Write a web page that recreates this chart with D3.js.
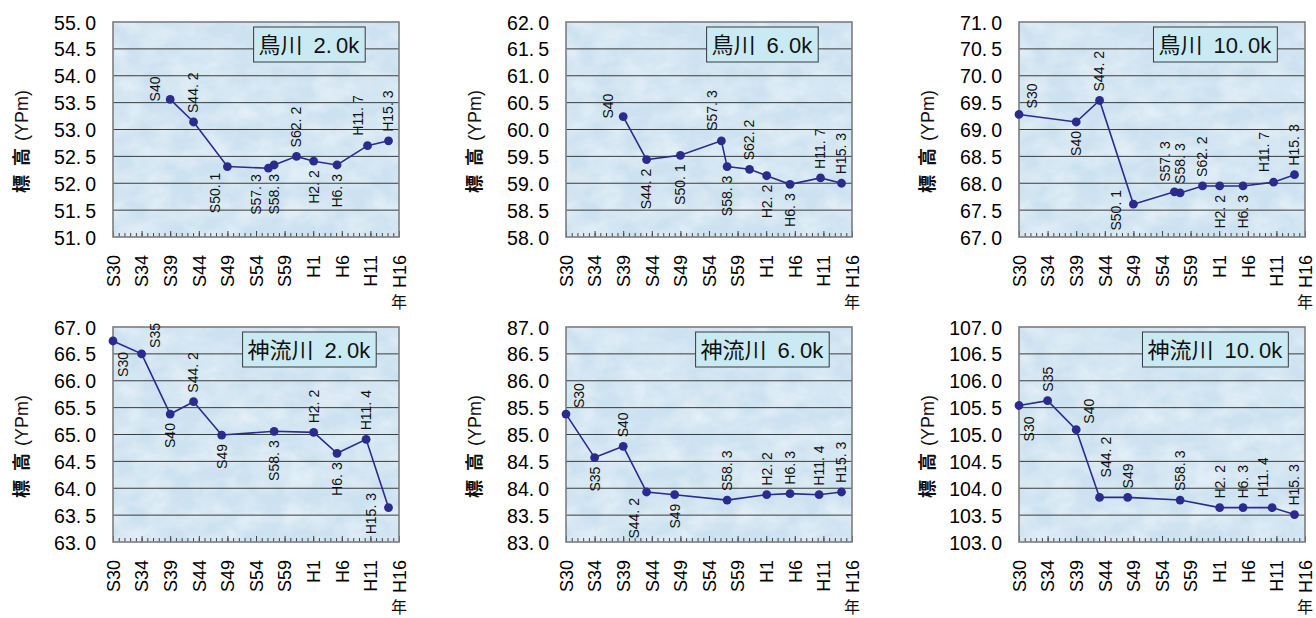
<!DOCTYPE html>
<html lang="ja">
<head>
<meta charset="utf-8">
<script src="https://cdn.jsdelivr.net/npm/d3@7"></script>
<style>
  html, body { margin: 0; padding: 0; background: #fff; }
  svg { display: block; }
  .lat { font-family: "Liberation Sans", Arial, sans-serif; }
  .cjk { font-family: "Noto Sans CJK JP", sans-serif; }
</style>
</head>
<body>
<svg id="chart" width="1316" height="618"></svg>
<script>
// Axis tick labels (Japanese era years) at five-year steps
const xTickLabels = ["S30", "S34", "S39", "S44", "S49", "S54", "S59", "H1", "H6", "H11", "H16"];
const xDomain = [1955, 2005];

// Panel titles and lower bound of each elevation axis (range is 4.0 m)
const panelTitles = ["鳥川 2.0k", "鳥川 6.0k", "鳥川 10.0k", "神流川 2.0k", "神流川 6.0k", "神流川 10.0k"];
const yMins = [51, 58, 67, 63, 83, 103];

// Survey dates (era.year.month) and bed elevations (YPm)
const surveysKarasu2 = ["S40", "S44.2", "S50.1", "S57.3", "S58.3", "S62.2", "H2.2", "H6.3", "H11.7", "H15.3"];
const elevKarasu2 = [53.56, 53.14, 52.31, 52.28, 52.34, 52.50, 52.41, 52.34, 52.70, 52.79];

const surveysKarasu6 = ["S40", "S44.2", "S50.1", "S57.3", "S58.3", "S62.2", "H2.2", "H6.3", "H11.7", "H15.3"];
const elevKarasu6 = [60.24, 59.44, 59.52, 59.79, 59.31, 59.26, 59.14, 58.98, 59.10, 59.00];

const surveysKarasu10 = ["S30", "S40", "S44.2", "S50.1", "S57.3", "S58.3", "S62.2", "H2.2", "H6.3", "H11.7", "H15.3"];
const elevKarasu10 = [69.28, 69.14, 69.54, 67.61, 67.84, 67.82, 67.95, 67.95, 67.95, 68.02, 68.16];

const surveysKanna2 = ["S30", "S35", "S40", "S44.2", "S49", "S58.3", "H2.2", "H6.3", "H11.4", "H15.3"];
const elevKanna2 = [66.74, 66.50, 65.38, 65.61, 64.99, 65.06, 65.04, 64.65, 64.91, 63.64];

const surveysKanna6 = ["S30", "S35", "S40", "S44.2", "S49", "S58.3", "H2.2", "H6.3", "H11.4", "H15.3"];
const elevKanna6 = [85.38, 84.57, 84.78, 83.93, 83.88, 83.78, 83.88, 83.90, 83.88, 83.93];

const surveysKanna10 = ["S30", "S35", "S40", "S44.2", "S49", "S58.3", "H2.2", "H6.3", "H11.4", "H15.3"];
const elevKanna10 = [105.54, 105.63, 105.09, 103.83, 103.83, 103.78, 103.64, 103.64, 103.64, 103.51];

// Where each point's date label sits relative to its marker
const labelSideKarasu2 = ["la", "a", "lb", "lb", "b", "a", "b", "b", "al", "a"];
const labelSideKarasu6 = ["la", "b", "b", "al", "b", "a", "b", "b", "a", "a"];
const labelSideKarasu10 = ["ra", "b", "a", "l", "al", "a", "a", "b", "b", "al", "a"];
const labelSideKanna2 = ["rb", "ra", "b", "a", "b", "b", "a", "b", "a", "l"];
const labelSideKanna6 = ["ra", "b", "a", "lb", "b", "a", "a", "a", "a", "a"];
const labelSideKanna10 = ["rb", "a", "ra", "ar", "a", "a", "a", "a", "al", "a"];

const panelSurveys = [surveysKarasu2, surveysKarasu6, surveysKarasu10, surveysKanna2, surveysKanna6, surveysKanna10];
const panelElev = [elevKarasu2, elevKarasu6, elevKarasu10, elevKanna2, elevKanna6, elevKanna10];
const panelLabelSide = [labelSideKarasu2, labelSideKarasu6, labelSideKarasu10, labelSideKanna2, labelSideKanna6, labelSideKanna10];

// ---- layout ----
const plotW = 286, plotH = 215;
const colLeft = [113, 566, 1019];
const rowTop = [22, 327];

const lineColor = "#2b2b8e";

const labelOffsets = {
  a:  { dx: 0,   dy: -9,  anchor: "start" },
  al: { dx: -9,  dy: -10, anchor: "start" },
  ar: { dx: 7,   dy: -20, anchor: "start" },
  b:  { dx: 0,   dy: 9,   anchor: "end" },
  la: { dx: -15, dy: 2,   anchor: "start" },
  lb: { dx: -12, dy: 6,   anchor: "end" },
  l:  { dx: -17, dy: 6,   anchor: "middle" },
  ra: { dx: 13,  dy: -6,  anchor: "start" },
  rb: { dx: 10,  dy: 11,  anchor: "end" }
};

// "S44.2" -> decimal year
function surveyYear(s) {
  const era = s[0] === "S" ? 1925 : 1988;
  const parts = s.slice(1).split(".");
  const y = era + (+parts[0]);
  const m = parts.length > 1 ? +parts[1] : 1;
  return y + (m - 1) / 12;
}

// writes "a.b" with a wide gap after the point
function writeDotted(sel, str, gap) {
  const i = str.indexOf(".");
  sel.text(null);
  if (i < 0) { sel.append("tspan").text(str); return; }
  sel.append("tspan").text(str.slice(0, i + 1));
  sel.append("tspan").attr("dx", gap).text(str.slice(i + 1));
}

const svg = d3.select("#chart");
const defs = svg.append("defs");

// soft mottled texture for the plot areas
const tex = defs.append("filter").attr("id", "tex")
  .attr("x", 0).attr("y", 0).attr("width", 1).attr("height", 1);
tex.append("feTurbulence").attr("type", "fractalNoise")
  .attr("baseFrequency", "0.035 0.05").attr("numOctaves", 4).attr("seed", 7).attr("result", "n");
tex.append("feColorMatrix").attr("in", "n").attr("type", "matrix")
  .attr("values", "0 0 0 0 1  0 0 0 0 1  0 0 0 0 1  0 0 0 1.5 -0.5");

panelTitles.forEach((title, p) => {
  const left = colLeft[p % 3], top = rowTop[Math.floor(p / 3)];
  const g = svg.append("g").attr("transform", `translate(${left},${top})`);

  const x = d3.scaleLinear().domain(xDomain).range([0, plotW]);
  const y = d3.scaleLinear().domain([yMins[p], yMins[p] + 4]).range([plotH, 0]);

  // background
  g.append("rect").attr("width", plotW).attr("height", plotH).attr("fill", "#cde2f0");
  g.append("rect").attr("width", plotW).attr("height", plotH)
    .attr("fill", "#fff").attr("filter", "url(#tex)").attr("opacity", 0.55);

  // horizontal gridlines
  const yTicks = d3.range(9).map(i => yMins[p] + i * 0.5);
  g.append("g").selectAll("line").data(yTicks.slice(1, -1)).join("line")
    .attr("x1", 0).attr("x2", plotW)
    .attr("y1", d => y(d)).attr("y2", d => y(d))
    .attr("stroke", "#3c3c3c").attr("stroke-width", 1);

  // minor year ticks inside the bottom edge
  const minor = d3.axisBottom(x).tickValues(d3.range(xDomain[0], xDomain[1] + 1, 1))
    .tickSizeInner(-4).tickSizeOuter(0).tickFormat("");
  g.append("g").attr("transform", `translate(0,${plotH})`).call(minor)
    .call(a => a.select(".domain").remove())
    .call(a => a.selectAll("line").attr("stroke", "#444"));

  // major ticks with rotated era labels
  const major = d3.axisBottom(x).tickValues(d3.range(xDomain[0], xDomain[1] + 1, 5))
    .tickSizeInner(-6).tickSizeOuter(0).tickFormat((d, i) => xTickLabels[i]);
  g.append("g").attr("transform", `translate(0,${plotH})`).call(major)
    .call(a => a.select(".domain").remove())
    .call(a => a.selectAll("line").attr("stroke", "#444"))
    .call(a => a.selectAll("text")
      .attr("class", "lat")
      .attr("font-size", 18).attr("fill", "#000")
      .attr("transform", "rotate(-90)")
      .attr("x", -18).attr("y", 0).attr("dy", "0.35em")
      .attr("text-anchor", "end"));

  // elevation axis
  const yAxis = d3.axisLeft(y).tickValues(yTicks).tickSize(0).tickPadding(17)
    .tickFormat(d3.format(".1f"));
  g.append("g").call(yAxis)
    .call(a => a.select(".domain").remove())
    .call(a => a.selectAll("text")
      .attr("class", "lat").attr("font-size", 19.5).attr("fill", "#000")
      .attr("dy", "0.36em")
      .each(function (d) { writeDotted(d3.select(this), d3.format(".1f")(d), 4); }));

  // plot border
  g.append("rect").attr("width", plotW).attr("height", plotH)
    .attr("fill", "none").attr("stroke", "#7d7d7d").attr("stroke-width", 1.6);

  // axis title
  const yt = g.append("text")
    .attr("transform", `translate(${-91},${plotH / 2 + 12}) rotate(-90)`)
    .attr("text-anchor", "middle").attr("dy", "0.36em")
    .attr("font-size", 18).attr("fill", "#111");
  yt.append("tspan").attr("class", "cjk").attr("font-weight", "bold").text("標");
  yt.append("tspan").attr("class", "cjk").attr("font-weight", "bold").attr("dx", 9).text("高");
  yt.append("tspan").attr("class", "lat").attr("dx", 7).text("(YPm)");

  // year unit
  g.append("text").attr("class", "cjk")
    .attr("x", plotW).attr("y", plotH + 65).attr("dy", "0.36em")
    .attr("text-anchor", "middle").attr("font-size", 16).attr("fill", "#111")
    .text("年");

  // series
  const pts = panelSurveys[p].map((s, i) => ({ s, t: surveyYear(s), v: panelElev[p][i], side: panelLabelSide[p][i] }));
  g.append("path").datum(pts)
    .attr("fill", "none").attr("stroke", lineColor).attr("stroke-width", 1.6)
    .attr("d", d3.line().x(d => x(d.t)).y(d => y(d.v)));
  g.append("g").selectAll("circle").data(pts).join("circle")
    .attr("cx", d => x(d.t)).attr("cy", d => y(d.v)).attr("r", 4.4)
    .attr("fill", lineColor);

  // survey date labels, written vertically
  g.append("g").selectAll("text").data(pts).join("text")
    .attr("class", "lat").attr("font-size", 14).attr("fill", "#111")
    .attr("transform", d => {
      const o = labelOffsets[d.side];
      return `translate(${x(d.t) + o.dx},${y(d.v) + o.dy}) rotate(-90)`;
    })
    .attr("text-anchor", d => labelOffsets[d.side].anchor)
    .attr("dy", "0.35em")
    .each(function (d) { writeDotted(d3.select(this), d.s, 4); });

  // title box
  const tg = g.append("g");
  const tt = tg.append("text")
    .attr("x", plotW * 0.685).attr("y", 23).attr("dy", "0.36em")
    .attr("text-anchor", "middle").attr("font-size", 22).attr("fill", "#111");
  const parts = title.split(" ");
  tt.append("tspan").attr("class", "cjk").text(parts[0]);
  const num = parts[1];
  const di = num.indexOf(".");
  tt.append("tspan").attr("class", "lat").attr("dx", 11).text(num.slice(0, di + 1));
  tt.append("tspan").attr("class", "lat").attr("dx", 4).text(num.slice(di + 1));
  const bb = tt.node().getBBox();
  tg.insert("rect", "text")
    .attr("x", bb.x - 5).attr("y", 5).attr("width", bb.width + 10).attr("height", 35)
    .attr("fill", "#c9e9f3").attr("stroke", "#3a3a3a").attr("stroke-width", 1);
});
</script>
</body>
</html>
